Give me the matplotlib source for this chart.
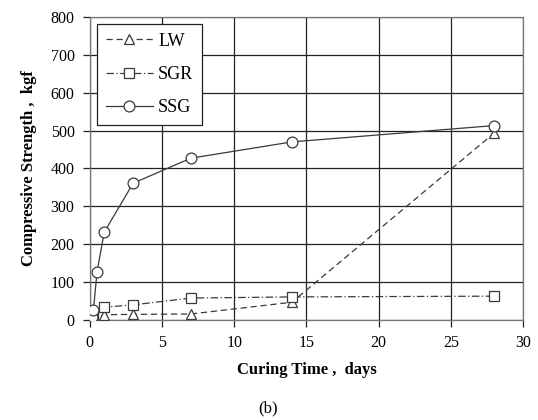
import matplotlib
matplotlib.use("Agg")
import matplotlib.pyplot as plt

# Curing time (days) and compressive strength (kgf) per mix
lw_days = [0.125, 0.25, 1, 3, 7, 14, 28]
lw_strength = [3, 6, 14, 15, 16, 47, 493]

sgr_days = [0.125, 0.25, 1, 3, 7, 14, 28]
sgr_strength = [5, 12, 34, 40, 58, 61, 63]

ssg_days = [0.125, 0.25, 0.5, 1, 3, 7, 14, 28]
ssg_strength = [8, 26, 128, 232, 361, 427, 470, 513]

x_ticks = [0, 5, 10, 15, 20, 25, 30]
y_ticks = [0, 100, 200, 300, 400, 500, 600, 700, 800]

plt.rcParams['font.family'] = ['Liberation Serif', 'DejaVu Serif']

fig = plt.figure(figsize=(5.38, 4.2), dpi=100)
ax = fig.add_axes([0.167, 0.238, 0.805, 0.722])

line_color = '#3a3a3a'
common = dict(color=line_color, lw=0.9, markerfacecolor='white',
              markeredgecolor=line_color, markeredgewidth=0.9, zorder=3)

ax.plot(lw_days, lw_strength, linestyle=(0, (5, 3)), marker='^', markersize=7.5,
        label='LW', **common)
ax.plot(sgr_days, sgr_strength, linestyle=(0, (6, 2, 1, 2)), marker='s', markersize=7,
        label='SGR', **common)
ax.plot(ssg_days, ssg_strength, linestyle='-', marker='o', markersize=7.8,
        label='SSG', **common)

ax.set_xlim(0, 30)
ax.set_ylim(0, 800)
ax.set_xticks(x_ticks)
ax.set_yticks(y_ticks)
ax.grid(True, color='#222222', lw=0.9)
ax.set_axisbelow(True)
for s in ax.spines.values():
    s.set_color('#777777')
    s.set_linewidth(0.9)
ax.tick_params(direction='out', length=5, width=0.9, color='#222222',
               labelsize=11.5, pad=6)

ax.set_xlabel('Curing Time ,  days', fontsize=12, fontweight='bold', labelpad=8)
ax.set_ylabel('Compressive Strength ,  kgf', fontsize=12, fontweight='bold', labelpad=10)

leg = ax.legend(loc='upper left', bbox_to_anchor=(0.016, 0.977), borderaxespad=0,
                fontsize=13, handlelength=2.6, labelspacing=0.9, borderpad=0.5,
                handletextpad=0.3, fancybox=False, framealpha=1)
leg.get_frame().set_edgecolor('#222222')
leg.get_frame().set_linewidth(0.9)

fig.text(0.498, 0.028, '(b)', ha='center', va='center', fontsize=12)

fig.savefig('out.png', dpi=100)
